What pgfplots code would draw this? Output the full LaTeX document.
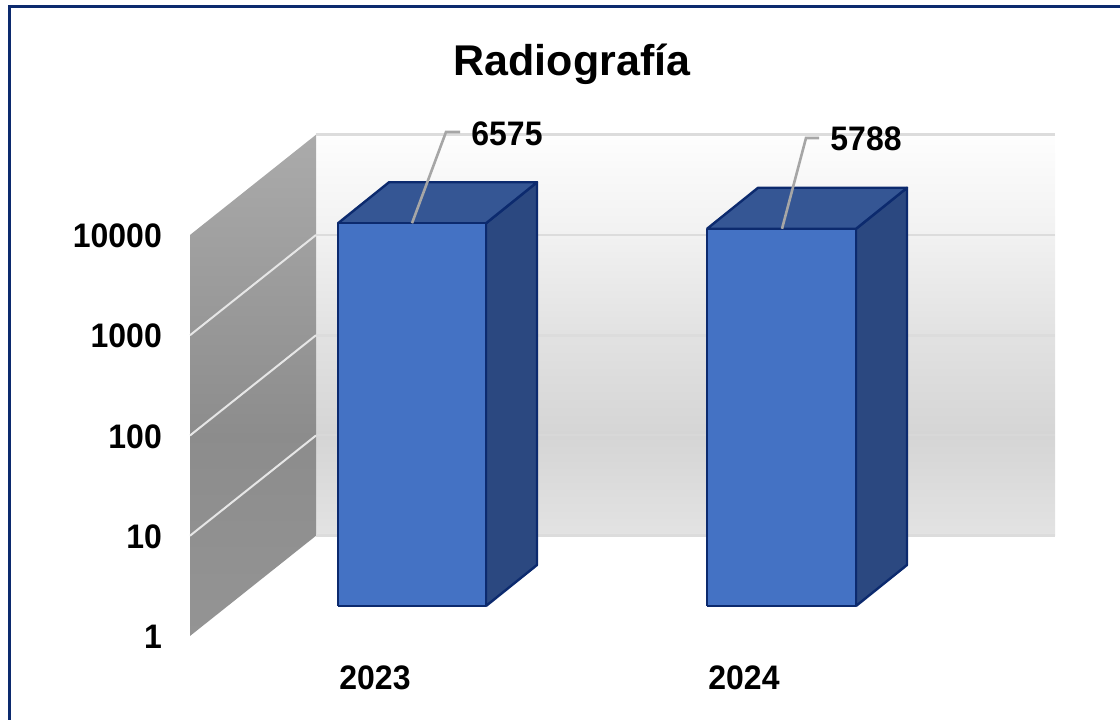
\documentclass[border=0pt]{standalone}
\usepackage{fontspec}
\setmainfont{Liberation Sans}
\usepackage{pgfplots}
\pgfplotsset{compat=1.18}
\definecolor{barfront}{HTML}{4472C4}
\definecolor{barside}{HTML}{2B4880}
\definecolor{bartop}{HTML}{355694}
\definecolor{baredge}{HTML}{0C2A6E}
\definecolor{leader}{HTML}{A6A6A6}
\definecolor{gridback}{HTML}{DCDCDC}
\definecolor{gridside}{HTML}{E6E6E6}
\pgfdeclareverticalshading{backwall}{100bp}{
  rgb(0bp)=(0.89,0.89,0.89);
  rgb(25bp)=(0.89,0.89,0.89);
  rgb(37.5bp)=(0.835,0.835,0.835);
  rgb(50bp)=(0.885,0.885,0.885);
  rgb(62.5bp)=(0.945,0.945,0.945);
  rgb(75bp)=(0.995,0.995,0.995);
  rgb(100bp)=(0.995,0.995,0.995)}
\pgfdeclareverticalshading{sidewall}{100bp}{
  rgb(0bp)=(0.58,0.58,0.58);
  rgb(25bp)=(0.58,0.58,0.58);
  rgb(45bp)=(0.55,0.55,0.55);
  rgb(75bp)=(0.67,0.67,0.67);
  rgb(100bp)=(0.67,0.67,0.67)}
\newcommand{\chartfont}{\fontsize{34}{38}\selectfont\bfseries}
\newcommand{\nar}[1]{\scalebox{0.94}[1]{#1}}
\begin{document}
\begin{tikzpicture}
\useasboundingbox (0pt,0pt) rectangle (1120pt,720pt);
\draw[baredge,line width=3.5pt] (9.7pt,0pt) -- (9.7pt,713.5pt) -- (1120pt,713.5pt);
% walls: value 1 on the front edge lies at pixel row 636
\begin{axis}[
  at={(0pt,0pt)},anchor=south west,
  scale only axis,width=1120pt,height=720pt,
  xmin=0,xmax=1120,ymode=log,ymin=0.1452,ymax=2208000,
  clip=false,axis line style={draw=none},major tick length=0pt,
  minor tick length=0pt,
  ytick={1,10,100,1000,10000},yticklabels={\nar{1},\nar{10},\nar{100},\nar{1000},\nar{10000}},
  xtick={375,744},xticklabels={\nar{2023},\nar{2024}},
  yticklabel style={font=\chartfont,anchor=east,inner sep=0pt,xshift=162pt,yshift=-1pt},
  xticklabel style={font=\chartfont,anchor=center,inner sep=0pt,yshift=42pt},
  title={Radiografía},
  title style={font=\fontsize{43}{47}\selectfont\bfseries,at={(0.5107,0.9167)},anchor=center,yshift=-10.5pt},
]
\addplot[draw=none,shading=backwall] coordinates {(316,10) (1055,10) (1055,100000) (316,100000) (316,10)};
\addplot[draw=none,shading=sidewall] coordinates {(190,1) (316,10) (316,100000) (190,10000) (190,1)};
\addplot[gridback,line width=2.6pt] coordinates {(316,10) (1055,10)};
\addplot[gridback,line width=2pt,opacity=0.5] coordinates {(316,100) (1055,100)};
\addplot[gridback,line width=2.6pt] coordinates {(316,1000) (1055,1000)};
\addplot[gridback,line width=2.6pt] coordinates {(316,10000) (1055,10000)};
\addplot[gridback,line width=2.6pt] coordinates {(316,100000) (1055,100000)};
\addplot[gridside,line width=2pt] coordinates {(190,10) (316,100)};
\addplot[gridside,line width=2pt] coordinates {(190,100) (316,1000)};
\addplot[gridside,line width=2pt] coordinates {(190,1000) (316,10000)};
\end{axis}
% bars: value 1 on the bars' front plane lies at pixel row 606
\begin{axis}[
  at={(0pt,0pt)},anchor=south west,
  scale only axis,width=1120pt,height=720pt,
  xmin=0,xmax=1120,ymode=log,ymin=0.07292,ymax=1108900,
  clip=false,hide axis,
]
\addplot[fill=barside,draw=baredge,line width=2.4pt,line join=round] coordinates {(486,1) (537,2.5644) (537,16861) (486,6575) (486,1)};
\addplot[fill=bartop,draw=baredge,line width=2.4pt,line join=round] coordinates {(338,6575) (389,16861) (537,16861) (486,6575) (338,6575)};
\addplot[fill=barfront,draw=baredge,line width=2.4pt,line join=round] coordinates {(338,1) (486,1) (486,6575) (338,6575) (338,1)};
\addplot[fill=barside,draw=baredge,line width=2.4pt,line join=round] coordinates {(856,1) (907,2.5644) (907,14843) (856,5788) (856,1)};
\addplot[fill=bartop,draw=baredge,line width=2.4pt,line join=round] coordinates {(707,5788) (758,14843) (907,14843) (856,5788) (707,5788)};
\addplot[fill=barfront,draw=baredge,line width=2.4pt,line join=round] coordinates {(707,1) (856,1) (856,5788) (707,5788) (707,1)};
\addplot[leader,line width=2.6pt] coordinates {(412,6575) (446,53470) (460,53470)};
\addplot[leader,line width=2.6pt] coordinates {(782,5788) (806,46580) (819,46580)};
\node[font=\chartfont,inner sep=0pt] at (axis cs:507,51050) {\nar{6575}};
\node[font=\chartfont,inner sep=0pt] at (axis cs:866,45540) {\nar{5788}};
\end{axis}
\end{tikzpicture}
\end{document}
